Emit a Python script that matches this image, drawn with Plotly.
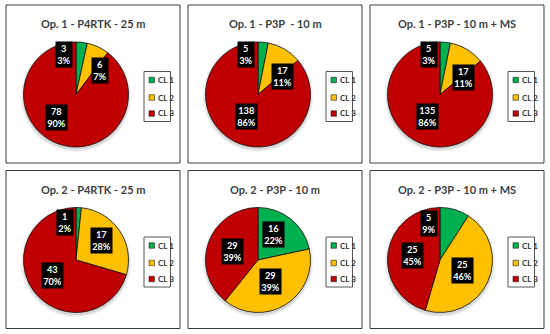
import plotly.graph_objects as go

# ---------------- data ----------------
categories = ["CL 1", "CL 2", "CL 3"]
titles = [
    "Op. 1 - P4RTK - 25 m",
    "Op. 1 - P3P\u00a0 - 10 m",
    "Op. 1 - P3P - 10 m + MS",
    "Op. 2 - P4RTK - 25 m",
    "Op. 2 - P3P - 10 m",
    "Op. 2 - P3P - 10 m + MS",
]
op1_p4rtk_25m = [3, 6, 78]
op1_p3p_10m = [5, 17, 138]
op1_p3p_10m_ms = [5, 17, 135]
op2_p4rtk_25m = [1, 17, 43]
op2_p3p_10m = [16, 29, 29]
op2_p3p_10m_ms = [5, 25, 25]
series = [op1_p4rtk_25m, op1_p3p_10m, op1_p3p_10m_ms,
          op2_p4rtk_25m, op2_p3p_10m, op2_p3p_10m_ms]

# ---------------- style ----------------
colors = ["#00B050", "#FFC000", "#C00000"]
W, H = 550, 334
FONT = "Lato"
box_x = [6, 188, 370]
box_y = [5, 170.5]
box_w, box_h = 174, 158
pie_off = (70, 89.5)
pie_r = 52.5
# label box offsets from pie centre (px, y down) — placement styling
label_offsets = [
    [(-12, -40), (23.5, -24.5), (-20, 22.5)],
    [(-12.5, -40), (24, -18.5), (-12, 22)],
    [(-11, -40), (23, -17), (-13, 21.5)],
    [(-11.5, -38), (25, -19.5), (-23.5, 15.5)],
    [(15, -25.5), (12, 21.5), (-25.5, -8)],
    [(-11, -37), (22.5, 10.5), (-28, -5)],
]


def px(x):
    return x / W


def py(y):
    return 1 - y / H


def percents(vals):
    tot = sum(vals)
    raw = [v * 100 / tot for v in vals]
    fl = [int(r) for r in raw]
    rem = 100 - sum(fl)
    order = sorted(range(len(vals)), key=lambda i: -(raw[i] - fl[i]))
    for i in order[:rem]:
        fl[i] += 1
    return fl


fig = go.Figure()
shapes = []
annotations = []

for k, vals in enumerate(series):
    row, col = divmod(k, 3)
    bx, by = box_x[col], box_y[row]
    # panel frame
    shapes.append(dict(type="rect", xref="paper", yref="paper",
                       x0=px(bx), x1=px(bx + box_w), y0=py(by + box_h), y1=py(by),
                       line=dict(color="#3a3a3a", width=1), fillcolor="white", layer="below"))
    cx, cy = bx + pie_off[0], by + pie_off[1]
    # soft shadow
    for grow, op in [(3.0, 0.04), (1.8, 0.05), (0.8, 0.07)]:
        fig.add_trace(go.Pie(values=[1], labels=["s"], sort=False,
                             marker=dict(colors=["rgba(0,0,0,%s)" % op]),
                             textinfo="none", hoverinfo="skip", showlegend=False,
                             domain=dict(x=[px(cx - pie_r - grow), px(cx + pie_r + grow)],
                                         y=[py(cy + 2 + pie_r + grow), py(cy + 2 - pie_r - grow)])))
    fig.add_trace(go.Pie(
        values=vals, labels=categories, sort=False, direction="clockwise", rotation=0,
        marker=dict(colors=colors, line=dict(color="#111111", width=0.8)),
        textinfo="none", hoverinfo="label+value+percent", showlegend=False,
        domain=dict(x=[px(cx - pie_r), px(cx + pie_r)], y=[py(cy + pie_r), py(cy - pie_r)]),
    ))
    # title
    annotations.append(dict(xref="paper", yref="paper", x=px(bx + box_w / 2), y=py(by + 18.5),
                            text=titles[k], showarrow=False, xanchor="center", yanchor="middle",
                            font=dict(family=FONT, size=11, color="#404040", weight="bold")))
    # data labels
    pcts = percents(vals)
    for i, (v, p) in enumerate(zip(vals, pcts)):
        dx, dy = label_offsets[k][i]
        annotations.append(dict(xref="paper", yref="paper", x=px(cx + dx), y=py(cy + dy),
                                text="%d<br>%d%%" % (v, p), showarrow=False,
                                xanchor="center", yanchor="middle", align="center",
                                bgcolor="black", borderpad=1.2,
                                font=dict(family=FONT, size=9.2, color="white", weight="bold")))
    # legend
    lx, ly = bx + 138, by + 66.5
    shapes.append(dict(type="rect", xref="paper", yref="paper",
                       x0=px(lx), x1=px(lx + 26.5), y0=py(ly + 50), y1=py(ly),
                       line=dict(color="#555555", width=1), fillcolor="white"))
    for i, cat in enumerate(categories):
        iy = by + [75, 92.5, 108.5][i]
        shapes.append(dict(type="rect", xref="paper", yref="paper",
                           x0=px(bx + 143), x1=px(bx + 148.5), y0=py(iy + 2.75), y1=py(iy - 2.75),
                           line=dict(color="#222222", width=0.6), fillcolor=colors[i]))
        annotations.append(dict(xref="paper", yref="paper", x=px(bx + 149.5), y=py(iy),
                                text=cat, showarrow=False, xanchor="left", yanchor="middle",
                                font=dict(family=FONT, size=8, color="#303030", weight="bold")))

fig.update_layout(
    width=W, height=H, margin=dict(l=0, r=0, t=0, b=0),
    paper_bgcolor="white", plot_bgcolor="white",
    shapes=shapes, annotations=annotations, showlegend=False,
)
fig.write_html("out.html", config={"displayModeBar": False},
               post_script="document.body.style.margin='0';document.body.style.overflow='hidden';")
